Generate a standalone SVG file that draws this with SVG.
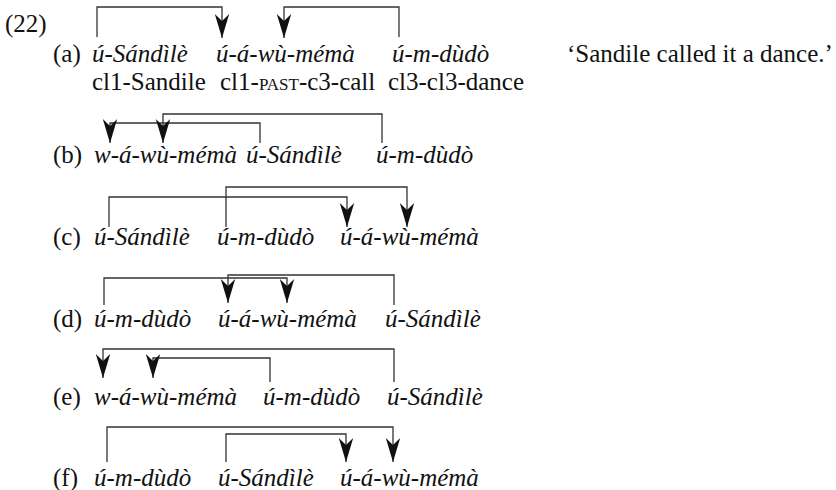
<svg xmlns="http://www.w3.org/2000/svg" width="836" height="490" viewBox="0 0 836 490">
  <style>
    text { font-family: "Liberation Serif", "Times New Roman", serif; font-size: 25px; fill: #111; }
    .w { font-style: italic; }
    .sc { font-size: 17px; }
    .arc { fill: none; stroke: #333; stroke-width: 1.3; marker-end: url(#head); }
  </style>
  <defs>
    <marker id="head" markerUnits="userSpaceOnUse" markerWidth="26" markerHeight="18" viewBox="-24 -9 25 18" refX="0" refY="0" orient="auto">
      <path d="M0,0 L-24,-7.2 L-17,0 L-24,7.2 Z" fill="#111"/>
    </marker>
  </defs>

  <text x="5" y="32">(22)</text>

  <!-- (a) -->
  <g id="ex-a">
    <text x="53" y="62">(a)</text>
    <text class="w" x="92" y="62">ú-Sándìlè</text>
    <text class="w" x="216" y="62">ú-á-wù-mémà</text>
    <text class="w" x="392" y="62">ú-m-dùdò</text>
    <text x="567" y="62">‘Sandile called it a dance.’</text>
    <text x="92" y="90">cl1-Sandile</text>
    <text x="220" y="90">cl1-<tspan class="sc">PAST</tspan>-c3-call</text>
    <text x="388" y="90">cl3-cl3-dance</text>
  </g>

  <!-- (b) -->
  <g id="ex-b">
    <text x="53" y="163">(b)</text>
    <text class="w" x="94" y="163">w-á-wù-mémà</text>
    <text class="w" x="246" y="163">ú-Sándìlè</text>
    <text class="w" x="376" y="163">ú-m-dùdò</text>
  </g>

  <!-- (c) -->
  <g id="ex-c">
    <text x="53" y="245">(c)</text>
    <text class="w" x="94" y="245">ú-Sándìlè</text>
    <text class="w" x="217" y="245">ú-m-dùdò</text>
    <text class="w" x="340" y="245">ú-á-wù-mémà</text>
  </g>

  <!-- (d) -->
  <g id="ex-d">
    <text x="53" y="327">(d)</text>
    <text class="w" x="94" y="327">ú-m-dùdò</text>
    <text class="w" x="218" y="327">ú-á-wù-mémà</text>
    <text class="w" x="385" y="327">ú-Sándìlè</text>
  </g>

  <!-- (e) -->
  <g id="ex-e">
    <text x="53" y="405">(e)</text>
    <text class="w" x="94" y="405">w-á-wù-mémà</text>
    <text class="w" x="263" y="405">ú-m-dùdò</text>
    <text class="w" x="387" y="405">ú-Sándìlè</text>
  </g>

  <!-- (f) -->
  <g id="ex-f">
    <text x="53" y="486">(f)</text>
    <text class="w" x="94" y="486">ú-m-dùdò</text>
    <text class="w" x="218" y="486">ú-Sándìlè</text>
    <text class="w" x="340" y="486">ú-á-wù-mémà</text>
  </g>

  <!-- dependency arcs -->
  <g id="arcs">
    <path class="arc" d="M97,37 V7 H222 V38"/>
    <path class="arc" d="M399,37 V7 H284 V38"/>

    <path class="arc" d="M260,143 V123 H110 V143"/>
    <path class="arc" d="M382,143 V114 H163 V143"/>

    <path class="arc" d="M109,227 V197 H347 V227"/>
    <path class="arc" d="M226,227 V187 H407 V227"/>

    <path class="arc" d="M104,305 V278 H287 V303"/>
    <path class="arc" d="M394,305 V275 H228 V303"/>

    <path class="arc" d="M394,382 V349 H103 V378"/>
    <path class="arc" d="M270,382 V358 H153 V378"/>

    <path class="arc" d="M107,462 V427 H393 V462"/>
    <path class="arc" d="M226,462 V434 H346 V462"/>
  </g>
</svg>
